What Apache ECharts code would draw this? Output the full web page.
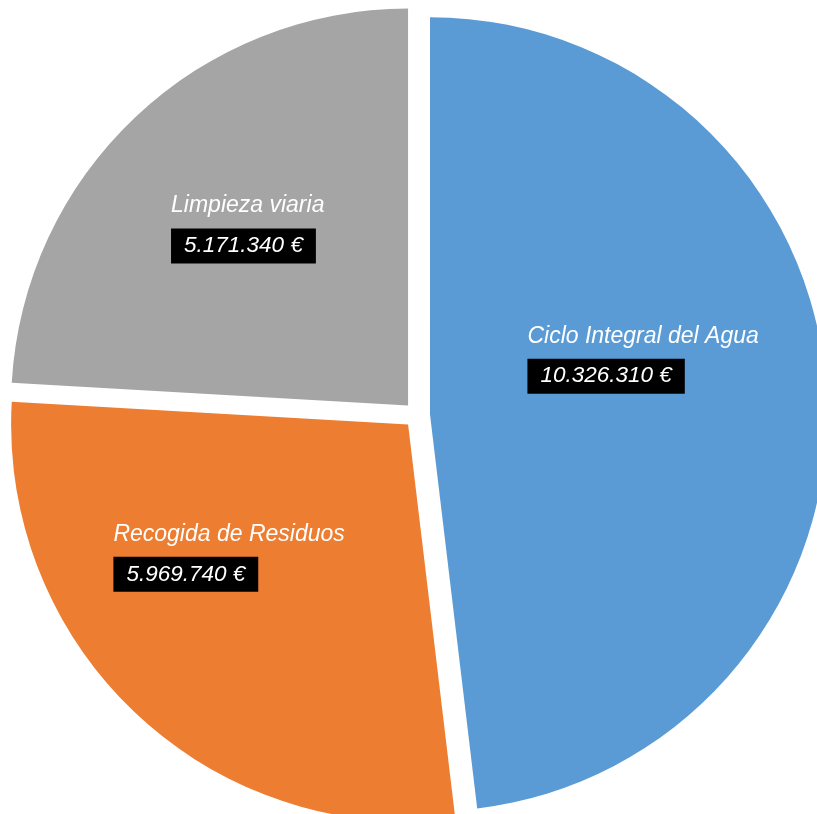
<!DOCTYPE html>
<html>
<head>
<meta charset="utf-8">
<script src="https://cdn.jsdelivr.net/npm/echarts@6/dist/echarts.min.js"></script>
<style>html,body{margin:0;padding:0;background:#fff;}#chart{width:817px;height:814px;}</style>
</head>
<body>
<div id="chart"></div>
<script>
const categories = ['Ciclo Integral del Agua', 'Recogida de Residuos', 'Limpieza viaria'];
const values = [10326310, 5969740, 5171340];
const colors = ['#5B9BD5', '#ED7D31', '#A5A5A5'];
const labelShift = [[12, -55], [-41, -26], [-22, -42]];

function fmt(v) {
  return String(v).replace(/\B(?=(\d{3})+(?!\d))/g, '.') + ' €';
}

const chart = echarts.init(document.getElementById('chart'));
chart.setOption({
  animation: false,
  series: [{
    type: 'pie',
    center: [417, 415],
    radius: [0, 397],
    startAngle: 90,
    clockwise: true,
    selectedMode: 'multiple',
    selectedOffset: 13,
    emphasis: { disabled: true },
    data: categories.map((c, i) => ({
      name: c,
      value: values[i],
      selected: true,
      itemStyle: { color: colors[i] }
    })),
    label: {
      show: true,
      position: 'inside',
      formatter: p => '{n|' + p.name + '}\n{v|' + fmt(p.value) + '}',
      rich: {
        n: { fontFamily: 'Liberation Sans', fontStyle: 'italic', fontSize: 23, color: '#fff', lineHeight: 58, align: 'left' },
        v: { fontFamily: 'Liberation Sans', fontStyle: 'italic', fontSize: 22.5, color: '#fff', lineHeight: 22, backgroundColor: '#000', padding: [6, 13, 6, 13], align: 'left' }
      }
    },
    labelLayout: p => ({ dx: labelShift[p.dataIndex][0], dy: labelShift[p.dataIndex][1] }),
    labelLine: { show: false }
  }]
});
</script>
</body>
</html>
